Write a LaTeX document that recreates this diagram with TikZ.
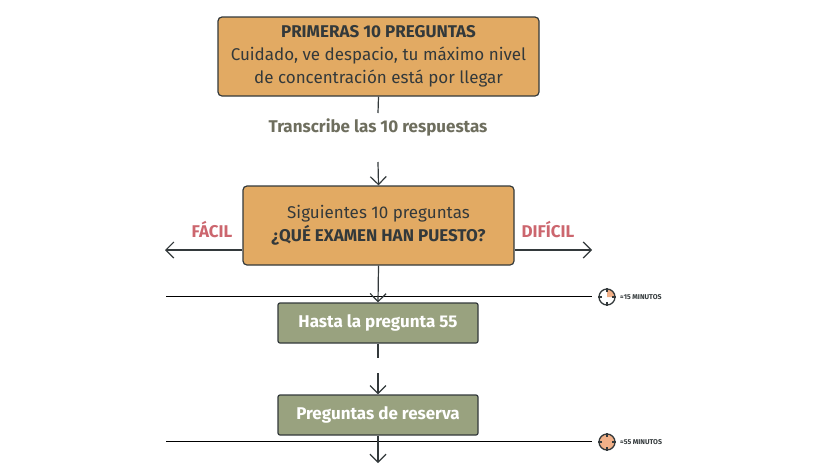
\documentclass[tikz,border=0pt]{standalone}
\usepackage{fontspec}
\setmainfont{Fira Sans}
\usetikzlibrary{arrows.meta}
\definecolor{orb}{HTML}{E2AA63}
\definecolor{grb}{HTML}{99A27F}
\definecolor{dk}{HTML}{33393B}
\definecolor{rd}{HTML}{CC666E}
\definecolor{gt}{HTML}{6E6E5E}
\definecolor{clk}{HTML}{F1B088}
\tikzset{
 x=1pt,y=-1pt,
 obox/.style={draw=dk,line width=1.2pt,fill=orb,rounded corners=4pt,align=center,text=dk,inner sep=0pt},
 gbox/.style={draw=dk,line width=1.2pt,fill=grb,rounded corners=2pt,align=center,text=white,font=\fontsize{17}{20}\selectfont\bfseries,inner sep=0pt,minimum width=200pt,minimum height=40pt},
 con/.style={draw=dk,line width=1.2pt},
 arr/.style={con,-{Straight Barb[length=8pt,width=16pt,line width=1.2pt]}},
 hl/.style={draw=black,line width=0.8pt},
 tlab/.style={font=\fontsize{7}{8}\selectfont\bfseries,text=dk,anchor=west,inner sep=0pt}
}
\newcommand{\clockat}[3]{%
 \begin{scope}[shift={(#1,#2)}]
  \ifnum#3=1 \fill[clk] (0,0) circle (8);\else \fill[clk] (0,0) -- (8,0) arc[start angle=0,end angle=-90,radius=8] -- cycle;\fi
  \draw[dk,line width=1.3pt] (0,0) circle (8);
  \foreach \a in {0,90,180,270}{\draw[dk,line width=1.5pt] (\a:5) -- (\a:9);}
 \end{scope}}
\begin{document}
\begin{tikzpicture}
\useasboundingbox (0,0) rectangle (817,464);
\node[obox,minimum width=321pt,minimum height=79pt] (b1) at (378.5,56.5) {};
\node[text=dk,align=center,font=\fontsize{17}{23}\selectfont] at (b1) {\textbf{PRIMERAS 10 PREGUNTAS}\\Cuidado, ve despacio, tu máximo nivel\\de concentración está por llegar};
\node[text=gt,font=\fontsize{17}{20}\selectfont\bfseries] (t) at (378,127) {Transcribe las 10 respuestas};
\coordinate (t1) at (378,113);
\coordinate (t2) at (378,162);
\draw[con] (b1.south) -- (t1);
\node[obox,minimum width=271pt,minimum height=79pt] (b2) at (378.5,225.5) {};
\node[text=dk,align=center,font=\fontsize{17}{23}\selectfont] at (b2) {Siguientes 10 preguntas\\\textbf{¿QUÉ EXAMEN HAN PUESTO?}};
\draw[arr] (t2) -- (b2.north);
\coordinate (L) at (165,250); \coordinate (R) at (592,250);
\draw[arr] (b2.west |- L) -- (L);
\draw[arr] (b2.east |- R) -- (R);
\node[text=rd,font=\fontsize{17}{20}\selectfont\bfseries] (fa) at (212,230) {FÁCIL};
\node[text=rd,font=\fontsize{17}{20}\selectfont\bfseries] (di) at (548,230) {DIFÍCIL};
\coordinate (h1a) at (166,296); \coordinate (h1b) at (592,296);
\draw[hl] (h1a) -- (h1b);
\clockat{607}{297}{0}
\node[tlab] (m1) at (620,297) {≈15 MINUTOS};
\node[gbox] (b3) at (378,323) {Hasta la pregunta 55};
\draw[arr] (b2.south) -- (b3.north);
\coordinate (c1) at (378,358); \coordinate (c2) at (378,373);
\draw[con] (b3.south) -- (c1);
\node[gbox] (b4) at (378,415) {Preguntas de reserva};
\draw[arr] (c2) -- (b4.north);
\coordinate (h2a) at (166,441); \coordinate (h2b) at (592,441);
\draw[hl] (h2a) -- (h2b);
\clockat{607}{442}{1}
\node[tlab] (m2) at (620,442) {≈55 MINUTOS};
\coordinate (e) at (378,463);
\draw[arr] (b4.south) -- (e);
\end{tikzpicture}
\end{document}
